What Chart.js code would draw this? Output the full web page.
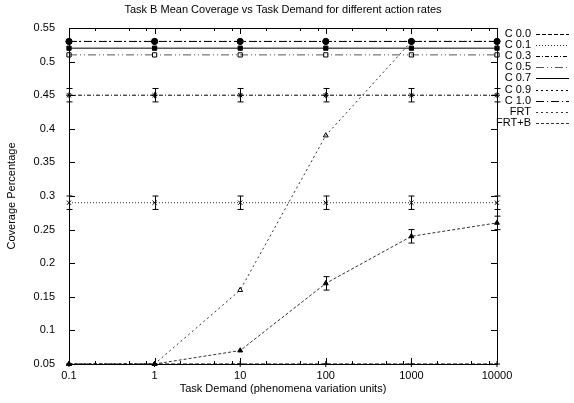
<!DOCTYPE html>
<html>
<head>
<meta charset="utf-8">
<script src="https://cdn.jsdelivr.net/npm/chart.js@4.4.1/dist/chart.umd.min.js"></script>
<style>
  html, body { margin: 0; padding: 0; background: #fff; }
  #wrap { width: 574px; height: 403px; }
</style>
</head>
<body>
<div id="wrap"><canvas id="chart" width="574" height="403"></canvas></div>
<script>
// task demand values (x, log scale)
const demand = [0.1, 1, 10, 100, 1000, 10000];
const xTicks = [0.1, 1, 10, 100, 1000, 10000];

// mean coverage per series
const c00 = [0.05, 0.05, 0.05, 0.05, 0.05, 0.05];
const c01 = [0.29, 0.29, 0.29, 0.29, 0.29, 0.29];
const c03 = [0.45, 0.45, 0.45, 0.45, 0.45, 0.45];
const c05 = [0.51, 0.51, 0.51, 0.51, 0.51, 0.51];
const c07 = [0.52, 0.52, 0.52, 0.52, 0.52, 0.52];
const c09 = [0.53, 0.53, 0.53, 0.53, 0.53, 0.53];
const c10 = [0.53, 0.53, 0.53, 0.53, 0.53, 0.53];
const frt = [0.05, 0.05, 0.16, 0.39, 0.53, 0.53];
const frtB = [0.05, 0.05, 0.07, 0.17, 0.24, 0.26];

// error bar half-widths (0 = none drawn)
const c01Err = [0.01, 0.01, 0.01, 0.01, 0.01, 0.01];
const c03Err = [0.01, 0.01, 0.01, 0.01, 0.01, 0.01];
const frtBErr = [0, 0, 0, 0.01, 0.01, 0.01];

function pts(vals) {
    return vals.map((v, i) => ({ x: demand[i], y: v }));
}

function series(label, vals, dash, style, filled, errs, color) {
    return {
        label: label,
        data: pts(vals),
        borderColor: color || '#000',
        backgroundColor: filled ? '#000' : '#fff',
        pointBorderColor: '#000',
        pointBackgroundColor: filled ? '#000' : 'rgba(0,0,0,0)',
        borderWidth: 1,
        borderDash: dash,
        pointStyle: style,
        pointRadius: style === 'triangle' ? 2.8 : 3,
        pointBorderWidth: 1,
        tension: 0,
        fill: false,
        clip: false,
        errors: errs || null
    };
}

const datasets = [
    series('C 0.0', c00, [4, 2], 'cross', false),
    series('C 0.1', c01, [1, 2], 'crossRot', false, c01Err, '#333'),
    series('C 0.3', c03, [4, 2, 1, 2], 'star', false, c03Err),
    series('C 0.5', c05, [8, 3, 1, 3, 1, 3], 'rect', false, null, '#555'),
    series('C 0.7', c07, [], 'rect', true),
    series('C 0.9', c09, [2, 3], 'circle', false),
    series('C 1.0', c10, [8, 3, 1, 3], 'circle', true),
    series('FRT', frt, [2, 3], 'triangle', false, null, '#333'),
    series('FRT+B', frtB, [3, 2], 'triangle', true, frtBErr, '#333')
];

const font = '11px "Liberation Sans", Arial, sans-serif';

// gnuplot-ish frame: box, inward ticks on all sides, minor log ticks
const framePlugin = {
    id: 'frame',
    afterDatasetsDraw(chart) {
        const ctx = chart.ctx;
        const a = chart.chartArea;
        const xs = chart.scales.x, ys = chart.scales.y;
        ctx.save();
        ctx.strokeStyle = '#000';
        ctx.lineWidth = 1;
        ctx.setLineDash([]);
        ctx.strokeRect(a.left + 0.5, a.top + 0.5, a.right - a.left, a.bottom - a.top);
        ctx.beginPath();
        ys.ticks.forEach(t => {
            const y = Math.round(ys.getPixelForValue(t.value)) + 0.5;
            ctx.moveTo(a.left, y); ctx.lineTo(a.left + 6, y);
            ctx.moveTo(a.right, y); ctx.lineTo(a.right - 6, y);
        });
        xTicks.forEach(v => {
            const x = Math.round(xs.getPixelForValue(v)) + 0.5;
            ctx.moveTo(x, a.bottom); ctx.lineTo(x, a.bottom - 6);
            ctx.moveTo(x, a.top); ctx.lineTo(x, a.top + 6);
            if (v < 10000) {
                [2, 5, 8].forEach(m => {
                    const mx = Math.round(xs.getPixelForValue(v * m)) + 0.5;
                    ctx.moveTo(mx, a.bottom); ctx.lineTo(mx, a.bottom - 3);
                    ctx.moveTo(mx, a.top); ctx.lineTo(mx, a.top + 3);
                });
            }
        });
        ctx.stroke();

        // error bars
        chart.data.datasets.forEach(ds => {
            if (!ds.errors) return;
            ctx.strokeStyle = '#000';
            ctx.beginPath();
            ds.data.forEach((p, i) => {
                const e = ds.errors[i];
                if (!e) return;
                const x = Math.round(xs.getPixelForValue(p.x)) + 0.5;
                const y1 = ys.getPixelForValue(p.y + e);
                const y2 = ys.getPixelForValue(p.y - e);
                ctx.moveTo(x, y1); ctx.lineTo(x, y2);
                ctx.moveTo(x - 3, y1); ctx.lineTo(x + 3, y1);
                ctx.moveTo(x - 3, y2); ctx.lineTo(x + 3, y2);
            });
            ctx.stroke();
        });

        // texts
        ctx.fillStyle = '#000';
        ctx.font = font;
        ctx.textAlign = 'center';
        ctx.textBaseline = 'middle';
        ctx.fillText('Task B Mean Coverage vs Task Demand for different action rates', 283, 10);
        ctx.fillText('Task Demand (phenomena variation units)', 283, 389);
        ctx.save();
        ctx.translate(12, 196);
        ctx.rotate(-Math.PI / 2);
        ctx.fillText('Coverage Percentage', 0, 0);
        ctx.restore();

        // legend at right, outside the plot
        ctx.textAlign = 'right';
        chart.data.datasets.forEach((ds, i) => {
            const y = 34 + i * 11.1;
            ctx.fillStyle = '#000';
            ctx.fillText(ds.label, 531, y);
            ctx.strokeStyle = ds.borderColor;
            ctx.setLineDash(ds.borderDash);
            ctx.beginPath();
            ctx.moveTo(536, Math.round(y) + 0.5);
            ctx.lineTo(569, Math.round(y) + 0.5);
            ctx.stroke();
        });
        ctx.restore();
    }
};

new Chart(document.getElementById('chart'), {
    type: 'line',
    data: { datasets: datasets },
    options: {
        responsive: false,
        animation: false,
        layout: { padding: { top: 28, right: 77, left: 0, bottom: 0 } },
        plugins: {
            legend: { display: false },
            title: { display: false },
            tooltip: { enabled: false }
        },
        scales: {
            x: {
                type: 'logarithmic',
                min: 0.1,
                max: 10000,
                afterBuildTicks: axis => { axis.ticks = xTicks.map(v => ({ value: v })); },
                afterFit: scale => { scale.height = 39; },
                grid: { display: false, drawTicks: false, tickLength: 0 },
                border: { display: false },
                ticks: {
                    autoSkip: false,
                    maxRotation: 0,
                    padding: 5,
                    color: '#000',
                    font: { family: '"Liberation Sans", Arial, sans-serif', size: 11 },
                    callback: v => String(v)
                }
            },
            y: {
                type: 'linear',
                min: 0.05,
                max: 0.55,
                afterFit: scale => { scale.width = 69; },
                grid: { display: false },
                border: { display: false },
                ticks: {
                    stepSize: 0.05,
                    padding: 6,
                    color: '#000',
                    font: { family: '"Liberation Sans", Arial, sans-serif', size: 11 },
                    callback: v => String(Number(v.toFixed(2)))
                }
            }
        }
    },
    plugins: [framePlugin]
});
</script>
</body>
</html>
